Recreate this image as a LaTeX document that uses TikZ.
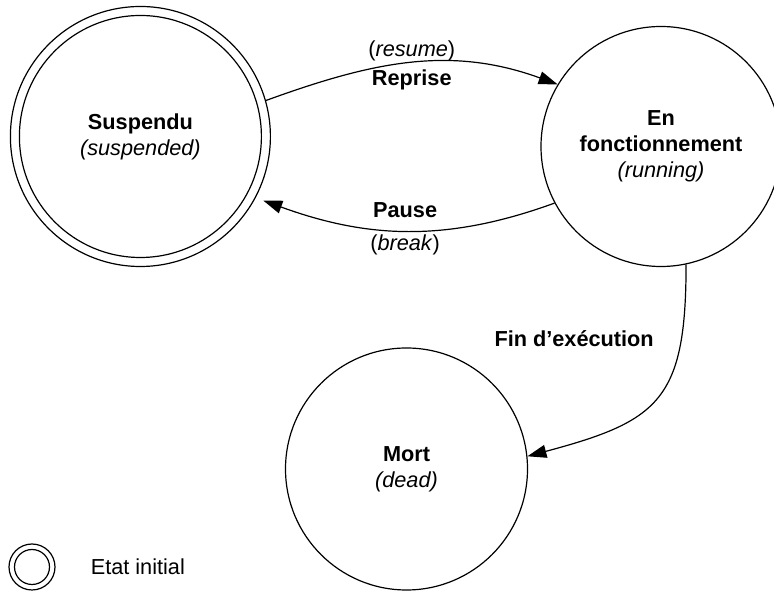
\documentclass[tikz,border=0pt]{standalone}
\usepackage{fontspec}
\setmainfont{Liberation Sans}
\usetikzlibrary{positioning, arrows.meta}

\begin{document}
\begin{tikzpicture}[
  x=1pt, y=1pt,
  font=\fontsize{21.7}{26}\selectfont,
  etat/.style={draw, circle, line width=1.2pt, inner sep=0pt, align=center},
  arr/.style={-{Triangle[length=19pt, width=13pt]}, line width=1.2pt},
  lbl/.style={inner sep=0pt, align=center}
]
\useasboundingbox (0,0) rectangle (774,591);

% etats
\node[etat, minimum size=260pt] (susp) at (140.4,454.5) {};
\node[etat, minimum size=242pt] (suspin) at (susp.center)
  {\textbf{Suspendu}\\\textit{(suspended)}};
\node[etat, minimum size=240pt] (run) at (661,444.5)
  {\textbf{En}\\\textbf{fonctionnement}\\\textit{(running)}};
\node[etat, minimum size=242pt] (mort) at (406.5,122)
  {\textbf{Mort}\\\textit{(dead)}};

% legende
\node[etat, minimum size=46pt] (legout) at (32,24) {};
\node[etat, minimum size=35pt] (legin) at (legout.center) {};
\node[lbl, right=35pt of legout] (legtxt) {Etat initial};

% transitions
\draw[arr] (susp.16) to[out=20, in=160]
  node[lbl, midway, above=2pt] {(\textit{resume})}
  node[lbl, midway, below=6pt] {\textbf{Reprise}} (run.149);
\draw[arr, shorten >=8pt] (run.208) to[out=200, in=340]
  node[lbl, midway, above=12pt] {\textbf{Pause}}
  node[lbl, midway, below=3.5pt] {(\textit{break})} (susp.-28);
\draw[arr] (run.-78) to[out=270, in=15, looseness=1.4]
  node[lbl, pos=0.22, left=27pt] {\textbf{Fin d’exécution}} (mort.6);
\end{tikzpicture}
\end{document}
